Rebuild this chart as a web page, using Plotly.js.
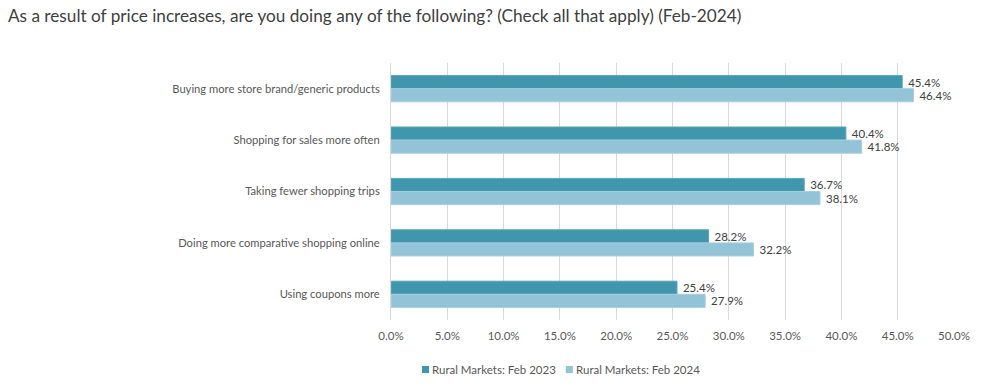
<!DOCTYPE html>
<html>
<head>
<meta charset="utf-8">
<script src="https://cdn.plot.ly/plotly-3.0.1.min.js"></script>
<style>html,body{margin:0;padding:0;background:#fff;}#chart{width:995px;height:383px;}</style>
</head>
<body>
<div id="chart"></div>
<script>
const categories = [
  "Buying more store brand/generic products",
  "Shopping for sales more often",
  "Taking fewer shopping trips",
  "Doing more comparative shopping online",
  "Using coupons more"
];
const seriesNames = ["Rural Markets: Feb 2023", "Rural Markets: Feb 2024"];
const values2023 = [45.4, 40.4, 36.7, 28.2, 25.4];
const values2024 = [46.4, 41.8, 38.1, 32.2, 27.9];
const tickVals = [0, 5, 10, 15, 20, 25, 30, 35, 40, 45, 50];

const FONT = "Lato, 'Liberation Sans', sans-serif";
const colors = ["#3F96AD", "#92C3D6"];
const lineColors = ["#5BA6BA", "#A8CFDE"];

function mk(vals, i) {
  return {
    type: "bar",
    orientation: "h",
    name: seriesNames[i],
    y: categories,
    x: vals,
    marker: {color: colors[i], line: {color: lineColors[i], width: 1}},
    text: vals.map(v => "\u00A0" + v.toFixed(1) + "%"),
    textposition: "outside",
    cliponaxis: false,
    textfont: {family: FONT, size: 11.5, color: "#404040"},
    hoverinfo: "x+y",
    showlegend: false
  };
}

const data = [mk(values2023, 0), mk(values2024, 1)];

// custom legend (small squares like the reference)
const legX = [0.055, 0.3105];
const shapes = legX.map((lx, i) => ({
  type: "rect", xref: "paper", yref: "paper",
  x0: lx, x1: lx + 0.0125, y0: -0.2065, y1: -0.179,
  fillcolor: colors[i], line: {width: 0}
}));
const annotations = legX.map((lx, i) => ({
  xref: "paper", yref: "paper",
  x: lx + 0.0145, y: -0.193, xanchor: "left", yanchor: "middle",
  text: seriesNames[i], showarrow: false,
  font: {family: FONT, size: 11.5, color: "#595959"}
}));

const layout = {
  width: 995, height: 383,
  margin: {l: 391, r: 41, t: 63, b: 63},
  paper_bgcolor: "#fff", plot_bgcolor: "#fff",
  font: {family: FONT, size: 11, color: "#595959"},
  title: {
    text: "As a result of price increases, are you doing any of the following? (Check all that apply) (Feb-2024)",
    font: {family: FONT, size: 17.2, color: "#404040"},
    x: 0.008, xanchor: "left", xref: "container",
    y: 0.958, yanchor: "middle", yref: "container"
  },
  barmode: "group",
  bargap: 0.49,
  bargroupgap: 0,
  xaxis: {
    range: [0, 50],
    tickvals: tickVals,
    ticktext: tickVals.map(v => v.toFixed(1) + "%"),
    showgrid: true, gridcolor: "#D9D9D9", gridwidth: 1,
    zeroline: false, showline: false,
    ticks: "outside", ticklen: 5, tickcolor: "rgba(0,0,0,0)",
    tickfont: {family: FONT, size: 11.5, color: "#595959"},
    fixedrange: true
  },
  yaxis: {
    autorange: "reversed",
    showgrid: false, zeroline: false,
    showline: true, linecolor: "#D9D9D9", linewidth: 1,
    ticks: "", ticklabelstandoff: 8,
    tickfont: {family: FONT, size: 11.2, color: "#595959"},
    fixedrange: true
  },
  showlegend: false,
  shapes: shapes,
  annotations: annotations
};

Plotly.newPlot("chart", data, layout, {displayModeBar: false, staticPlot: true});
</script>
</body>
</html>
